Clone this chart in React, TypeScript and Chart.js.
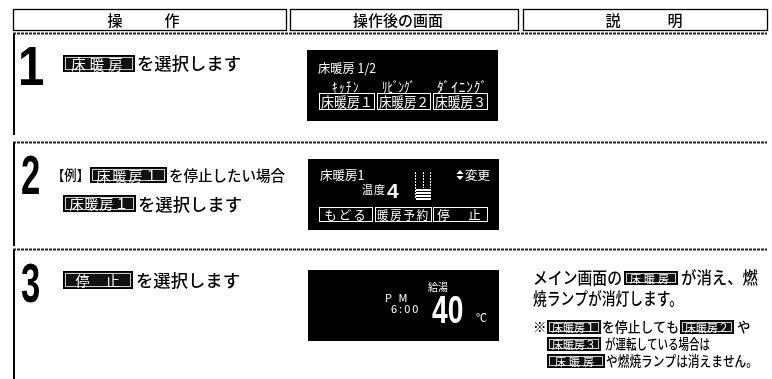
import React, { useEffect, useRef } from "react";
import { Chart, registerables } from "chart.js";

Chart.register(...registerables);

// ---- content (text data) ----
const HEADER_LABELS = [["操", "作"], ["操作後の画面"], ["説", "明"]];
const STEP_NUMBERS = ["1", "2", "3"];
const KEY_FLOOR = "床暖房";
const KEY_FLOOR_N = ["床暖房１", "床暖房２", "床暖房３"];
const KEY_STOP = "停　止";
const TEXT_SELECT = "を選択します";
const TEXT_EXAMPLE = "【例】";
const TEXT_WANT_STOP = "を停止したい場合";
const SCREEN1_TITLE = "床暖房 1/2";
const SCREEN1_ROOMS = ["ｷｯﾁﾝ", "ﾘﾋﾞﾝｸﾞ", "ﾀﾞｲﾆﾝｸﾞ"];
const SCREEN2_TITLE = "床暖房1";
const SCREEN2_CHANGE = "変更";
const SCREEN2_TEMP_LABEL = "温度";
const SCREEN2_TEMP_LEVEL = "4";
const SCREEN2_KEYS = ["もどる", "暖房予約", "停　止"];
const SCREEN3_AMPM = "P M";
const SCREEN3_TIME = "6:00";
const SCREEN3_LABEL = "給湯";
const SCREEN3_TEMP = "40";
const SCREEN3_UNIT = "℃";
const DESC_LINE1 = ["メイン画面の", "が消え、燃"];
const DESC_LINE2 = "焼ランプが消灯します。";
const NOTE_A = ["※", "を停止しても", "や"];
const NOTE_B = "が運転している場合は";
const NOTE_C = "や燃焼ランプは消えません。";

const FONT = '"Noto Sans CJK JP", "Noto Sans", sans-serif';

type TOpts = {
  color?: string;
  align?: CanvasTextAlign;
  maxW?: number;
  weight?: string;
  ls?: string;
};

function drawAll(ctx: CanvasRenderingContext2D) {
  const t = (s: string, x: number, y: number, size: number, o: TOpts = {}) => {
    ctx.save();
    ctx.fillStyle = o.color || "#000";
    ctx.textAlign = o.align || "left";
    ctx.textBaseline = "middle";
    ctx.font = `${o.weight || "500"} ${size}px ${FONT}`;
    (ctx as any).letterSpacing = o.ls || "0px";
    if (o.maxW) ctx.fillText(s, x, y, o.maxW);
    else ctx.fillText(s, x, y);
    ctx.restore();
  };
  const keyInv = (label: string, x: number, y: number, w: number, h: number, size: number, ls = "1px") => {
    ctx.save();
    ctx.fillStyle = "#111";
    ctx.fillRect(x, y, w, h);
    ctx.strokeStyle = "#000";
    ctx.lineWidth = 1;
    ctx.strokeRect(x + 0.5, y + 0.5, w - 1, h - 1);
    ctx.strokeStyle = "#ccc";
    ctx.strokeRect(x + 2.5, y + 2.5, w - 5, h - 5);
    ctx.restore();
    t(label, x + w / 2, y + h / 2 + 0.5, size, { color: "#fff", align: "center", ls, weight: "normal", maxW: w - 6 });
  };
  const keyScr = (label: string, x: number, y: number, w: number, h: number, size: number, ls = "1px") => {
    ctx.save();
    ctx.strokeStyle = "#fff";
    ctx.lineWidth = 1;
    ctx.strokeRect(x + 0.5, y + 0.5, w - 1, h - 1);
    ctx.restore();
    t(label, x + w / 2, y + h / 2 + 0.5, size, { color: "#fff", align: "center", ls, maxW: w - 4, weight: "normal" });
  };
  const bigDigit = (d: string, x: number, bottom: number, h: number, sx: number) => {
    ctx.save();
    ctx.translate(x, bottom);
    ctx.scale(sx, 1);
    ctx.fillStyle = "#000";
    ctx.textBaseline = "alphabetic";
    ctx.textAlign = "left";
    ctx.font = `bold ${h / 0.716}px "Liberation Sans", Arial, sans-serif`;
    ctx.fillText(d, 0, 0);
    ctx.restore();
  };
  const dashed = (y: number) => {
    ctx.save();
    ctx.strokeStyle = "#222";
    ctx.lineWidth = 2;
    ctx.setLineDash([3, 1]);
    ctx.beginPath();
    ctx.moveTo(13, y);
    ctx.lineTo(767, y);
    ctx.stroke();
    ctx.restore();
  };

  ctx.fillStyle = "#fff";
  ctx.fillRect(0, 0, 772, 379);

  // header boxes
  const cols: [number, number][] = [[13, 286], [290, 518], [523, 767]];
  ctx.save();
  ctx.strokeStyle = "#000";
  ctx.lineWidth = 1.3;
  cols.forEach(([a, b]) => ctx.strokeRect(a + 0.5, 9.5, b - a, 21));
  ctx.restore();
  const headerX = [[115, 172], [398], [613, 675]];
  HEADER_LABELS.forEach((parts, i) => {
    parts.forEach((p, j) => t(p, headerX[i][j], 20, 15, { align: "center" }));
  });

  dashed(33.5);
  dashed(142.5);
  dashed(249.5);

  ctx.fillStyle = "#000";
  ctx.fillRect(13, 34, 2, 101);
  ctx.fillRect(13, 143, 2, 103);
  ctx.fillRect(13, 250, 2, 129);

  // step numbers
  bigDigit(STEP_NUMBERS[0], 18, 85, 40, 0.85);
  bigDigit(STEP_NUMBERS[1], 21, 194, 40, 0.62);
  bigDigit(STEP_NUMBERS[2], 21, 302, 40, 0.62);

  // step 1
  keyInv(KEY_FLOOR, 63, 55, 72, 17, 14.5, "4px");
  t(TEXT_SELECT, 137, 63, 17.5, { maxW: 104 });

  // step 2
  t(TEXT_EXAMPLE, 52, 175, 14, { maxW: 37 });
  keyInv(KEY_FLOOR_N[0], 90, 167, 77, 16, 14, "2px");
  t(TEXT_WANT_STOP, 169, 175, 14.5, { maxW: 116 });
  keyInv(KEY_FLOOR_N[0], 63, 195, 73, 17, 14, "1px");
  t(TEXT_SELECT, 138, 204, 17.5, { maxW: 104 });

  // step 3
  keyInv(KEY_STOP, 63, 271, 70, 18, 14, "1px");
  t(TEXT_SELECT, 136, 280, 17.5, { maxW: 104 });

  // screen 1
  ctx.fillStyle = "#000";
  ctx.fillRect(307, 50, 191, 71);
  t(SCREEN1_TITLE, 318, 68, 12.5, { color: "#fff", maxW: 58, weight: "normal" });
  const roomX = [332, 382, 437];
  const roomW = [28, 33, 51];
  const roomLs = ["2px", "0px", "1px"];
  SCREEN1_ROOMS.forEach((r, i) =>
    t(r, roomX[i], 87, 14, { color: "#fff", ls: roomLs[i], maxW: roomW[i], weight: "normal" })
  );
  const k1: [number, number][] = [[319, 375], [377, 431], [433, 488]];
  k1.forEach(([a, b], i) => keyScr(KEY_FLOOR_N[i], a, 93, b - a, 17, 13.5, "0px"));

  // screen 2
  ctx.fillStyle = "#000";
  ctx.fillRect(308, 159, 191, 71);
  t(SCREEN2_TITLE, 320, 175, 12.5, { color: "#fff", weight: "normal" });
  ctx.fillStyle = "#fff";
  ctx.beginPath();
  ctx.moveTo(460, 170); ctx.lineTo(463.5, 174); ctx.lineTo(456.5, 174); ctx.closePath();
  ctx.moveTo(456.5, 176); ctx.lineTo(463.5, 176); ctx.lineTo(460, 180); ctx.closePath();
  ctx.fill();
  t(SCREEN2_CHANGE, 465, 175, 12.5, { color: "#fff", weight: "normal" });
  t(SCREEN2_TEMP_LABEL, 362, 190, 11, { color: "#fff", ls: "1px", weight: "normal" });
  ctx.save();
  ctx.fillStyle = "#fff";
  ctx.font = `bold 21px "Liberation Sans", Arial, sans-serif`;
  ctx.textBaseline = "alphabetic";
  ctx.fillText(SCREEN2_TEMP_LEVEL, 387, 198);
  ctx.restore();
  // level indicator
  ctx.save();
  ctx.strokeStyle = "#fff";
  ctx.lineWidth = 1;
  ctx.setLineDash([2, 1]);
  [415.5, 423.5, 430.5].forEach((x, i) => {
    ctx.beginPath();
    ctx.moveTo(x, 172);
    ctx.lineTo(x, i === 0 ? 199 : 188);
    ctx.stroke();
  });
  ctx.restore();
  ctx.fillStyle = "#fff";
  [189, 192, 195, 198].forEach((y) => ctx.fillRect(416, y, 15, 2));
  const k2: [number, number][] = [[319, 373], [375, 432], [433, 488]];
  k2.forEach(([a, b], i) => keyScr(SCREEN2_KEYS[i], a, 207, b - a, 15, 12.5, i === 2 ? "3px" : "2px"));

  // screen 3
  ctx.fillStyle = "#000";
  ctx.fillRect(308, 270, 191, 71);
  t(SCREEN3_AMPM, 385, 298, 11, { color: "#fff", ls: "2px", weight: "normal" });
  t(SCREEN3_TIME, 391, 309, 11, { color: "#fff", ls: "2px", weight: "normal" });
  t(SCREEN3_LABEL, 428, 287, 10, { color: "#fff", weight: "normal" });
  ctx.save();
  ctx.translate(432, 323);
  ctx.scale(0.72, 1);
  ctx.fillStyle = "#fff";
  ctx.font = `bold ${28 / 0.716}px "Liberation Sans", Arial, sans-serif`;
  ctx.textBaseline = "alphabetic";
  ctx.fillText(SCREEN3_TEMP, 0, 0);
  ctx.restore();
  t(SCREEN3_UNIT, 476, 318, 11, { color: "#fff", weight: "normal" });

  // description
  t(DESC_LINE1[0], 533, 278, 17, { maxW: 89 });
  keyInv(KEY_FLOOR, 624, 271, 54, 14, 11, "3px");
  t(DESC_LINE1[1], 681, 278, 17, { maxW: 77 });
  t(DESC_LINE2, 533, 299, 17, { maxW: 150 });

  t(NOTE_A[0], 533, 327, 13.5);
  keyInv(KEY_FLOOR_N[0], 547, 320, 54, 14, 11, "0px");
  t(NOTE_A[1], 602, 327, 13.5, { maxW: 77 });
  keyInv(KEY_FLOOR_N[1], 680, 320, 54, 14, 11, "0px");
  t(NOTE_A[2], 737, 327, 13.5);

  keyInv(KEY_FLOOR_N[2], 547, 337, 54, 14, 11, "0px");
  t(NOTE_B, 605, 344, 13.5, { maxW: 105 });

  keyInv(KEY_FLOOR, 547, 354, 58, 14, 11, "3px");
  t(NOTE_C, 606, 361, 13.5, { maxW: 152 });
}

export default function App() {
  const ref = useRef<HTMLCanvasElement | null>(null);
  useEffect(() => {
    if (!ref.current) return;
    const drawPlugin = {
      id: "manualPage",
      afterDraw(chart: any) {
        drawAll(chart.ctx);
      },
    };
    const chart = new Chart(ref.current, {
      type: "scatter",
      data: { datasets: [] },
      options: {
        responsive: false,
        animation: false,
        devicePixelRatio: 1,
        layout: { padding: 0 },
        plugins: { legend: { display: false }, tooltip: { enabled: false } },
        scales: { x: { display: false }, y: { display: false } },
      },
      plugins: [drawPlugin],
    });
    return () => chart.destroy();
  }, []);
  return (
    <div style={{ position: "fixed", left: 0, top: 0, width: 772, height: 379, background: "#fff" }}>
      <canvas ref={ref} width={772} height={379} style={{ display: "block", width: 772, height: 379 }} />
    </div>
  );
}
